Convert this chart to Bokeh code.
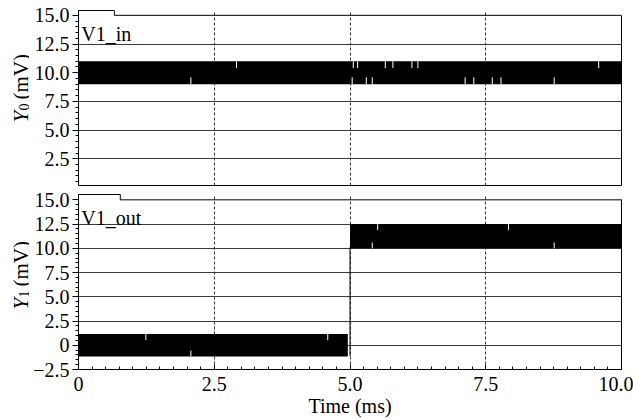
import numpy as np
from bokeh.plotting import figure
from bokeh.layouts import column, row
from bokeh.models import (Range1d, FixedTicker, LinearAxis, Label,
                          CustomJSTickFormatter)
from bokeh.core.properties import value
from bokeh.embed import file_html
from bokeh.resources import INLINE

FONT = "Liberation Serif"

# ---------------- data ----------------
x_ticks = [0.0, 2.5, 5.0, 7.5, 10.0]
x_tick_labels = ["0", "2.5", "5.0", "7.5", "10.0"]
x_minor = [i * 0.25 for i in range(41)]

y0_ticks = [2.5, 5.0, 7.5, 10.0, 12.5, 15.0]
y0_tick_labels = ["2.5", "5.0", "7.5", "10.0", "12.5", "15.0"]
y0_grid = [2.5, 5.0, 7.5, 10.0, 12.5]
y0_minor = [i * 0.5 for i in range(1, 31)]

y1_ticks = [-2.5, 0.0, 2.5, 5.0, 7.5, 10.0, 12.5, 15.0]
y1_tick_labels = ["\u22122.5", "0", "2.5", "5.0", "7.5", "10.0", "12.5", "15.0"]
y1_grid = [0.0, 2.5, 5.0, 7.5, 10.0, 12.5]
y1_minor = [-2.5 + i * 0.5 for i in range(36)]

vgrid = [2.5, 5.0, 7.5]

# V1_in: envelope of the fast signal (ms, mV)
in_time = [0.0, 10.0]
in_low = [9.0, 9.0]
in_high = [11.0, 11.0]
in_gap_top_x = [2.91, 5.06, 5.14, 5.65, 5.79, 6.14, 6.25, 9.58]
in_gap_bottom_x = [2.07, 5.04, 5.30, 5.41, 7.12, 7.28, 7.62, 7.78, 8.76]

# V1_out: envelope before and after the step
out_time_a = [0.0, 4.96]
out_low_a = [-1.15, -1.15]
out_high_a = [1.15, 1.15]
out_gap_top_a = [1.24, 4.59]
out_gap_bottom_a = [2.07]

out_time_b = [5.0, 10.0]
out_low_b = [10.0, 10.0]
out_high_b = [12.5, 12.5]
out_gap_top_b = [5.51, 7.92]
out_gap_bottom_b = [5.41, 8.76]

out_step_time = [5.0, 5.0]
out_step_value = [-1.15, 10.1]

GAP_DEPTH = 0.6

# ---------------- layout ----------------
FW, FH = 543, 175
LABW = 29
LEFT, RIGHT = 78 - LABW, 12
GRID_COLOR = "#3a3a3a"
FMT_CODE = "const i = t.findIndex(v => Math.abs(v - tick) < 1e-6); return i >= 0 ? l[i] : '';"


def blank_axis(ax):
    ax.ticker = FixedTicker(ticks=[])
    ax.major_tick_in = 0
    ax.major_tick_out = 0
    ax.minor_tick_in = 0
    ax.minor_tick_out = 0
    ax.major_label_text_font_size = "0px"
    ax.major_label_standoff = 0
    ax.axis_label_standoff = 0
    ax.axis_line_color = "black"
    ax.axis_line_width = 1


def make_panel(y_lo, y_hi, ticks, labels, minor, grid, border_top, border_bottom,
               tab_x, tab_text):
    p = figure(frame_width=FW, frame_height=FH,
               x_range=Range1d(0, 10), y_range=Range1d(y_lo, y_hi),
               output_backend="svg", toolbar_location=None,
               min_border_left=LEFT, min_border_right=RIGHT,
               min_border_top=border_top, min_border_bottom=border_bottom,
               outline_line_color=None,
               background_fill_color="white", border_fill_color="white")

    ya = p.left[0]
    ya.ticker = FixedTicker(ticks=ticks, minor_ticks=minor)
    ya.formatter = CustomJSTickFormatter(args=dict(t=ticks, l=labels), code=FMT_CODE)
    ya.major_tick_out = 6
    ya.major_tick_in = 0
    ya.minor_tick_out = 3
    ya.minor_tick_in = 0
    ya.major_label_standoff = 3
    ya.major_label_text_font = FONT
    ya.major_label_text_font_size = "20px"
    ya.major_label_text_color = "black"
    ya.axis_line_color = "black"
    ya.major_tick_line_color = "black"
    ya.minor_tick_line_color = "black"

    p.ygrid.ticker = FixedTicker(ticks=grid)
    p.ygrid.grid_line_color = GRID_COLOR
    p.ygrid.grid_line_width = 1
    p.xgrid.ticker = FixedTicker(ticks=vgrid)
    p.xgrid.grid_line_color = GRID_COLOR
    p.xgrid.grid_line_dash = "3 2"
    p.xgrid.grid_line_width = 1

    ra = LinearAxis(bounds=(y_lo, 15.0))
    blank_axis(ra)
    p.add_layout(ra, "right")
    aa = LinearAxis(bounds=(0, tab_x))
    blank_axis(aa)
    p.add_layout(aa, "above")

    p.line(x=[tab_x, tab_x, 10.0], y=[y_hi, 15.0, 15.0], line_color="black", line_width=1)

    px_per_unit = FH / (y_hi - y_lo)
    p.add_layout(Label(x=0.05, y=y_hi - 23.0 / px_per_unit, text=tab_text, text_font=FONT,
                       text_font_size="20px", text_color="black",
                       text_baseline="alphabetic", text_align="left"))
    return p


def make_ylabel(height, sub_text, base_y):
    f = figure(frame_width=LABW, frame_height=height,
               x_range=Range1d(0, LABW), y_range=Range1d(0, height),
               output_backend="svg", toolbar_location=None,
               min_border=0, outline_line_color=None,
               background_fill_color="white", border_fill_color="white")
    f.axis.visible = False
    f.grid.visible = False
    yb = height - base_y
    f.text(x=[20.5], y=[yb], text=["Y"], angle=np.pi / 2,
           text_font=value(FONT), text_font_style="italic", text_font_size=value("21px"),
           text_baseline="alphabetic", text_align="left", text_color="black")
    f.text(x=[23.0], y=[yb + 12], text=[sub_text], angle=np.pi / 2,
           text_font=value(FONT), text_font_size=value("14px"),
           text_baseline="alphabetic", text_align="left", text_color="black")
    f.text(x=[20.5], y=[yb + 23], text=["(mV)"], angle=np.pi / 2,
           text_font=value(FONT), text_font_size=value("21px"),
           text_baseline="alphabetic", text_align="left", text_color="black")
    return f


def draw_band(p, t, lo, hi, gaps_top, gaps_bottom):
    p.varea(x=t, y1=lo, y2=hi, fill_color="black")
    p.segment(x0=gaps_top, x1=gaps_top,
              y0=[hi[0]] * len(gaps_top), y1=[hi[0] - GAP_DEPTH] * len(gaps_top),
              line_color="white", line_width=1)
    p.segment(x0=gaps_bottom, x1=gaps_bottom,
              y0=[lo[0]] * len(gaps_bottom), y1=[lo[0] + GAP_DEPTH] * len(gaps_bottom),
              line_color="white", line_width=1)


# ---------- top panel ----------
TOP_H = 10 + FH + 6
p1 = make_panel(0.17, 15.42, y0_ticks, y0_tick_labels, y0_minor, y0_grid,
                10, 6, 0.66, "V1_in")
blank_axis(p1.below[0])
draw_band(p1, in_time, in_low, in_high, in_gap_top_x, in_gap_bottom_x)
l1 = make_ylabel(TOP_H, "0", 112)

# ---------- bottom panel ----------
BOT_H = 419 - TOP_H
p2 = make_panel(-2.5, 15.55, y1_ticks, y1_tick_labels, y1_minor, y1_grid,
                3, BOT_H - 3 - FH, 0.77, "V1_out")
xa = p2.below[0]
xa.ticker = FixedTicker(ticks=x_ticks, minor_ticks=x_minor)
xa.formatter = CustomJSTickFormatter(args=dict(t=x_ticks, l=x_tick_labels), code=FMT_CODE)
xa.major_tick_in = 5
xa.major_tick_out = 0
xa.minor_tick_in = 3
xa.minor_tick_out = 0
xa.major_label_standoff = 7
xa.major_label_text_font = FONT
xa.major_label_text_font_size = "20px"
xa.major_label_text_color = "black"
xa.axis_label = "Time (ms)"
xa.axis_label_text_font = FONT
xa.axis_label_text_font_size = "20px"
xa.axis_label_text_font_style = "normal"
xa.axis_label_text_color = "black"
xa.axis_label_standoff = 1
xa.axis_line_color = "black"

draw_band(p2, out_time_a, out_low_a, out_high_a, out_gap_top_a, out_gap_bottom_a)
draw_band(p2, out_time_b, out_low_b, out_high_b, out_gap_top_b, out_gap_bottom_b)
p2.line(x=out_step_time, y=out_step_value, line_color="black", line_width=1)
l2 = make_ylabel(BOT_H, "1", 306 - TOP_H)

layout = column(row(l1, p1, spacing=0), row(l2, p2, spacing=0), spacing=0)
open("out.html", "w").write(file_html(layout, INLINE))
